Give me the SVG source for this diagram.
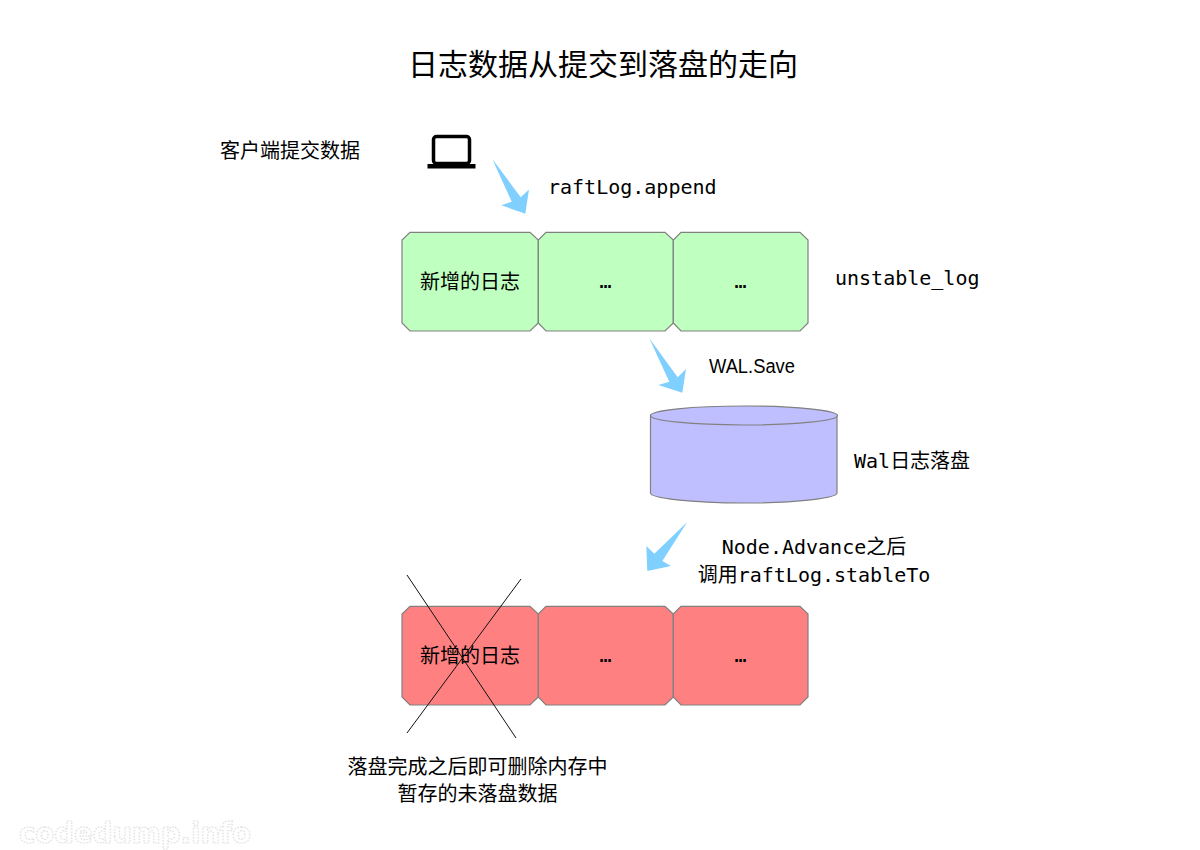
<svg xmlns="http://www.w3.org/2000/svg" width="1200" height="850" viewBox="0 0 1200 850">
<style>
.sans{font-family:"Liberation Sans","Noto Sans CJK SC",sans-serif;fill:#000}
.mono{font-family:"DejaVu Sans Mono","Noto Sans CJK SC",monospace;font-size:20px;fill:#000}
.cjk{font-family:"Noto Sans CJK SC",sans-serif;fill:#000}
.lbl{font-size:20px;text-anchor:middle}
.dots3{font-family:"DejaVu Sans Mono",monospace;font-size:20px;text-anchor:middle;fill:#000}
.g{fill:#bfffbf;stroke:#808080;stroke-width:1.2}
.r{fill:#ff8080;stroke:#808080;stroke-width:1.2}
.arrow{fill:#80d0ff}
.x{stroke:#111;stroke-width:1;fill:none}
.dots{font-family:"DejaVu Sans",sans-serif;font-size:28px;font-weight:bold;fill:none;stroke:#dedede;stroke-width:1.2;stroke-dasharray:1.5 1.5}
</style>
<rect width="1200" height="850" fill="#fff"/>
<text id="title" class="cjk" x="603" y="75" font-size="30" text-anchor="middle">日志数据从提交到落盘的走向</text>
<g id="client-label"><text class="cjk lbl" x="290" y="158">客户端提交数据</text></g>
<g id="laptop">
<rect x="433.500" y="136.500" width="36" height="27" rx="3" fill="none" stroke="#000" stroke-width="3.500"/>
<rect x="427.500" y="164" width="48" height="4.500" fill="#000"/>
</g>
<g id="connectors">
<path class="arrow" d="M492.300 159 L520.700 197.300 L529 189.500 L525.300 213.700 L501.300 205.300 L511.700 201.700 Z"/>
<path class="arrow" d="M649.300 338.300 L677.700 377.300 L686 369 L682.300 392.700 L658.300 385 L669.300 381.700 Z"/>
<path class="arrow" d="M687.300 522 L662.300 561 L671 566 L647.300 571 L646.300 546 L654.300 553.700 Z"/>
</g>
<g id="unstable-log-1"><path class="g" d="M410 232.300H530L538.300 240V323L530 331H410L402 323V240Z"/><text class="cjk lbl" x="470" y="289">新增的日志</text></g>
<g id="unstable-log-2"><path class="g" d="M546 232.300H665L673.300 240V323L665 331H546L538.300 323V240Z"/><text class="dots3" x="605.500" y="288">…</text></g>
<g id="unstable-log-3"><path class="g" d="M681 232.300H800L808 240V323L800 331H681L673.300 323V240Z"/><text class="dots3" x="740.500" y="288">…</text></g>
<g id="labels">
<text class="mono" x="548" y="194">raftLog.append</text>
<text class="mono" x="835" y="285">unstable_log</text>
<text class="sans" x="709" y="373" font-size="20" textLength="86" lengthAdjust="spacingAndGlyphs">WAL.Save</text>
<text class="mono" x="854" y="468">Wal<tspan class="cjk" font-size="20">日志落盘</tspan></text>
<text class="mono" x="814" y="554" text-anchor="middle">Node.Advance<tspan class="cjk" font-size="20">之后</tspan></text>
<text class="mono" x="814" y="582" text-anchor="middle"><tspan class="cjk" font-size="20">调用</tspan>raftLog.stableTo</text>
<text class="cjk lbl" x="477.500" y="774">落盘完成之后即可删除内存中</text>
<text class="cjk lbl" x="477.500" y="801">暂存的未落盘数据</text>
</g>
<g id="wal-cylinder">
<path d="M650.500 415 V493 C650.500 498 690 503 744 503 C798 503 837 498 837 493 V415 Z" fill="#bfbfff" stroke="#808080" stroke-width="1.200"/>
<ellipse cx="744" cy="415.500" rx="93.500" ry="9.500" fill="#bfbfff" stroke="#808080" stroke-width="1.200"/>
</g>
<g id="stable-log-1"><path class="r" d="M410 606.300H530L538.300 614V697L530 705H410L402 697V614Z"/><text class="cjk lbl" x="470" y="663">新增的日志</text></g>
<g id="stable-log-2"><path class="r" d="M546 606.300H665L673.300 614V697L665 705H546L538.300 697V614Z"/><text class="dots3" x="605.500" y="662">…</text></g>
<g id="stable-log-3"><path class="r" d="M681 606.300H800L808 614V697L800 705H681L673.300 697V614Z"/><text class="dots3" x="740.500" y="662">…</text></g>
<g id="cross"><line class="x" x1="407" y1="575" x2="516" y2="738"/><line class="x" x1="521" y1="579" x2="407" y2="733"/></g>
<text id="watermark" class="dots" x="19" y="843" textLength="232" lengthAdjust="spacingAndGlyphs">codedump.info</text>
</svg>
